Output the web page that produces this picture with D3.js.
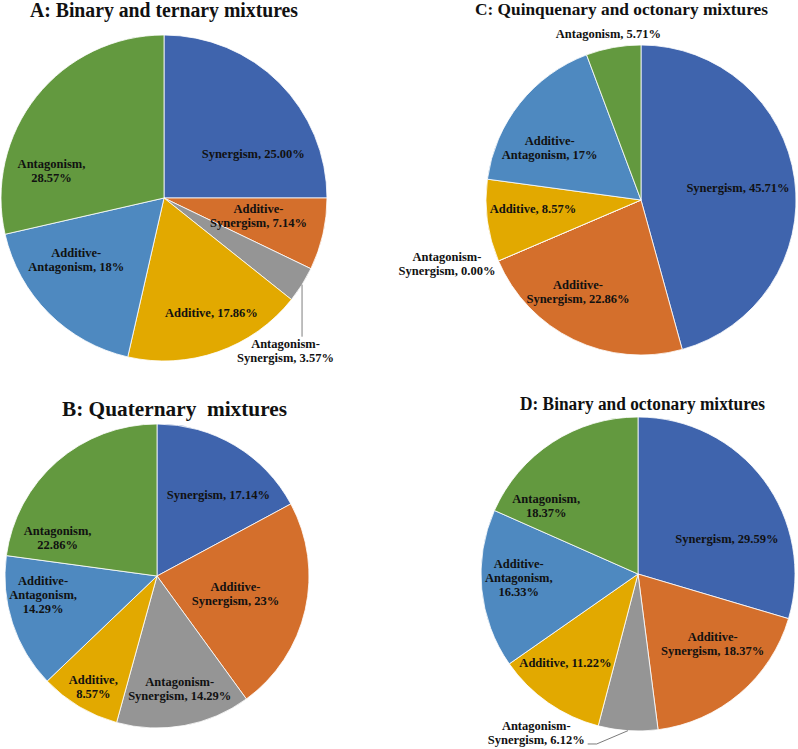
<!DOCTYPE html>
<html>
<head>
<meta charset="utf-8">
<script src="https://cdn.jsdelivr.net/npm/d3@7/dist/d3.min.js"></script>
<style>
  html, body { margin: 0; padding: 0; background: #ffffff; }
  svg { display: block; }
</style>
</head>
<body>
<div id="chart"></div>
<script>
// ---------- DATA ----------
const categories = ["Synergism", "Additive-Synergism", "Antagonism-Synergism", "Additive", "Additive-Antagonism", "Antagonism"];

const valuesA = [25.00, 7.14, 3.57, 17.86, 17.86, 28.57];
const valuesB = [17.14, 22.86, 14.29, 8.57, 14.29, 22.86];
const valuesC = [45.71, 22.86, 0.00, 8.57, 17.14, 5.71];
const valuesD = [29.59, 18.37, 6.12, 11.22, 16.33, 18.37];

const pctTextA = ["25.00%", "7.14%", "3.57%", "17.86%", "18%", "28.57%"];
const pctTextB = ["17.14%", "23%", "14.29%", "8.57%", "14.29%", "22.86%"];
const pctTextC = ["45.71%", "22.86%", "0.00%", "8.57%", "17%", "5.71%"];
const pctTextD = ["29.59%", "18.37%", "6.12%", "11.22%", "16.33%", "18.37%"];

const titles = ["A: Binary and ternary mixtures", "B: Quaternary  mixtures",
                "C: Quinquenary and octonary mixtures", "D: Binary and octonary mixtures"];

// ---------- STYLE / LAYOUT ----------
const colors = ["#3F64AD", "#D46F2C", "#959595", "#E2A900", "#4E89C0", "#63993F"];
const color = d3.scaleOrdinal().domain(categories).range(colors);

const W = 798, H = 749;
const labelFont = "'Liberation Serif', 'Times New Roman', serif";
const labelSize = 12.5, lineGap = 14;

// label placement: t = fraction along slice angle, rf = fraction of radius;
// out = offset from outer arc point at mid-angle (outside labels)
const panels = [
  { values: valuesA, pct: pctTextA, title: titles[0], cx: 164, cy: 198, r: 163,
    tx: 30, ty: 17, ts: 20, tw: 268,
    labels: [
      { t: 0.71, rf: 0.61, br: "none" },
      { t: 0.42, rf: 0.59, br: "hyphen" },
      { out: [-16.5, 66], br: "hyphen", leader: "vertical" },
      { t: 0.45, rf: 0.76, br: "none" },
      { t: 0.65, rf: 0.66, br: "hyphen" },
      { t: 0.256, rf: 0.71, br: "comma" }
    ] },
  { values: valuesB, pct: pctTextB, title: titles[1], cx: 157, cy: 576, r: 152,
    tx: 62, ty: 416, ts: 21.5, tw: 225,
    labels: [
      { t: 0.6, rf: 0.67, br: "none" },
      { t: 0.5, rf: 0.53, br: "hyphen" },
      { t: 0.48, rf: 0.76, br: "hyphen" },
      { t: 0.47, rf: 0.84, br: "comma" },
      { t: 0.665, rf: 0.76, br: "both" },
      { t: 0.16, rf: 0.70, br: "comma" }
    ] },
  { values: valuesC, pct: pctTextC, title: titles[2], cx: 641, cy: 200, r: 155,
    tx: 475, ty: 15, ts: 17.5, tw: 293,
    labels: [
      { t: 0.505, rf: 0.63, br: "none" },
      { t: 0.605, rf: 0.72, br: "hyphen" },
      { out: [-51.5, 3], br: "hyphen" },
      { t: 0.59, rf: 0.70, br: "none" },
      { t: 0.36, rf: 0.68, br: "hyphen" },
      { out: [-5, -13.5], br: "none" }
    ] },
  { values: valuesD, pct: pctTextD, title: titles[3], cx: 638, cy: 574, r: 157,
    tx: 520, ty: 410, ts: 18.5, tw: 245,
    labels: [
      { t: 0.64, rf: 0.61, br: "none" },
      { t: 0.40, rf: 0.65, br: "hyphen" },
      { out: [-91.7, 2.3], br: "hyphen", leader: "side" },
      { t: 0.61, rf: 0.73, br: "none" },
      { t: 0.56, rf: 0.76, br: "both" },
      { t: 0.195, rf: 0.73, br: "comma" }
    ] }
];

function labelLines(cat, pct, br) {
  if (br === "none") return [cat + ", " + pct];
  if (br === "comma") return [cat + ",", pct];
  const parts = cat.split("-");
  if (br === "hyphen") {
    if (parts.length === 1) return [cat + ", " + pct];
    return [parts[0] + "-", parts[1] + ", " + pct];
  }
  return [parts[0] + "-", parts[1] + ",", pct];
}

const svg = d3.select("#chart").append("svg")
  .attr("width", W).attr("height", H)
  .attr("viewBox", `0 0 ${W} ${H}`);
svg.append("rect").attr("width", W).attr("height", H).attr("fill", "#ffffff");

const pie = d3.pie().sort(null).value(d => d.value).startAngle(0).endAngle(2 * Math.PI);

panels.forEach(p => {
  const data = categories.map((c, i) => ({ cat: c, value: p.values[i], pct: p.pct[i], lab: p.labels[i] }));
  const arcs = pie(data);
  const arc = d3.arc().innerRadius(0).outerRadius(p.r);
  const g = svg.append("g").attr("transform", `translate(${p.cx},${p.cy})`);

  g.selectAll("path.slice").data(arcs).enter().append("path")
    .attr("class", "slice")
    .attr("d", arc)
    .attr("fill", d => color(d.data.cat))
    .attr("stroke", "#ffffff")
    .attr("stroke-width", 0.8);

  // title
  svg.append("text")
    .attr("x", p.tx).attr("y", p.ty)
    .attr("font-family", labelFont).attr("font-weight", "bold")
    .attr("font-size", p.ts).attr("fill", "#111")
    .style("white-space", "pre")
    .attr("textLength", p.tw).attr("lengthAdjust", "spacingAndGlyphs")
    .text(p.title);

  arcs.forEach(a => {
    const L = a.data.lab;
    const lines = labelLines(a.data.cat, a.data.pct, L.br);
    let lx, ly;
    const mid = (a.startAngle + a.endAngle) / 2;
    const ox = p.r * Math.sin(mid), oy = -p.r * Math.cos(mid);
    if (L.out) {
      lx = ox + L.out[0]; ly = oy + L.out[1];
    } else {
      const ang = a.startAngle + L.t * (a.endAngle - a.startAngle);
      lx = L.rf * p.r * Math.sin(ang); ly = -L.rf * p.r * Math.cos(ang);
    }
    const top = ly - (lines.length - 1) * lineGap / 2;
    const txt = g.append("text")
      .attr("font-family", labelFont).attr("font-weight", "bold")
      .attr("font-size", labelSize).attr("fill", "#111")
      .attr("text-anchor", "middle");
    const spans = lines.map((s, i) => txt.append("tspan")
      .attr("x", lx).attr("y", top + i * lineGap).attr("dy", "0.33em").text(s));

    if (L.leader === "vertical") {
      g.append("line")
        .attr("x1", ox).attr("y1", oy)
        .attr("x2", ox).attr("y2", top - 7)
        .attr("stroke", "#7f7f7f").attr("stroke-width", 1);
    } else if (L.leader === "side") {
      const last = spans[spans.length - 1];
      const w = last.node().getComputedTextLength();
      const sx = lx + w / 2 + 3, sy = top + (lines.length - 1) * lineGap + 4;
      g.append("polyline")
        .attr("points", `${sx},${sy} ${sx + 9},${sy} ${ox},${oy}`)
        .attr("fill", "none").attr("stroke", "#595959").attr("stroke-width", 0.8);
    }
  });
});
</script>
</body>
</html>
